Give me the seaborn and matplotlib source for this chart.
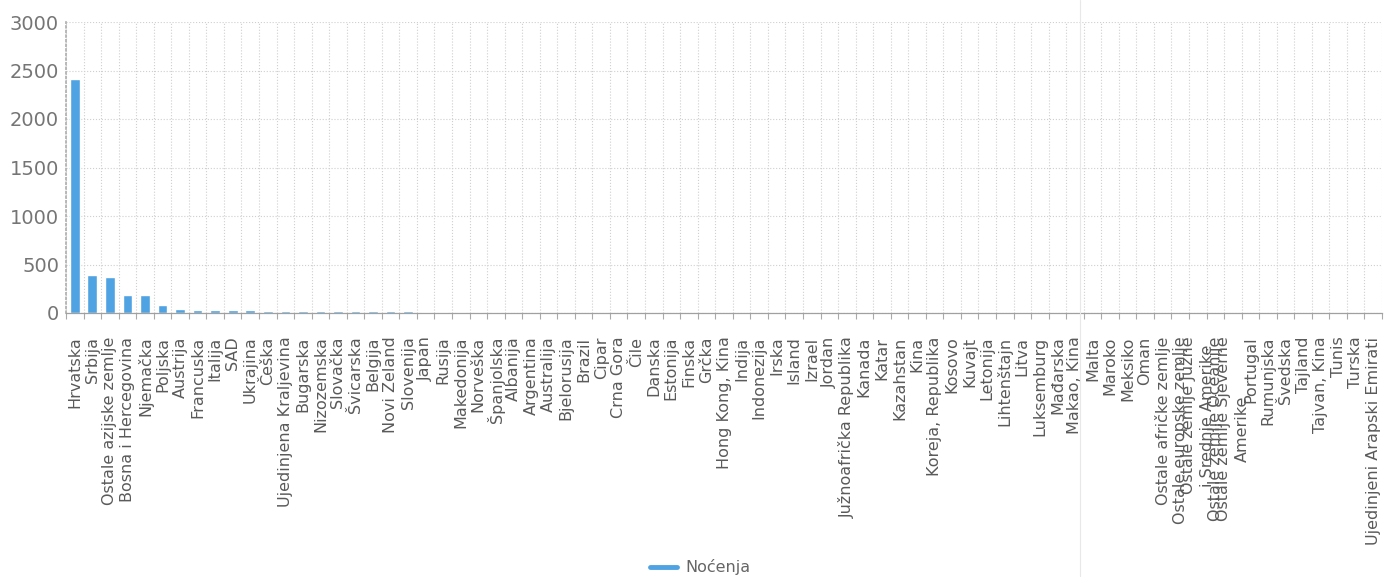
#!/usr/bin/env python3

import pandas as pd
import seaborn as sns
import matplotlib.pyplot as plt
from matplotlib.lines import Line2D

# ==========================
# DATA
# ==========================
countries = [
    "Hrvatska", "Srbija", "Ostale azijske zemlje", "Bosna i Hercegovina", "Njemačka",
    "Poljska", "Austrija", "Francuska", "Italija", "SAD",
    "Ukrajina", "Češka", "Ujedinjena Kraljevina", "Bugarska", "Nizozemska",
    "Slovačka", "Švicarska", "Belgija", "Novi Zeland", "Slovenija",
    "Japan", "Rusija", "Makedonija", "Norveška", "Španjolska",
    "Albanija", "Argentina", "Australija", "Bjelorusija", "Brazil",
    "Cipar", "Crna Gora", "Čile", "Danska", "Estonija",
    "Finska", "Grčka", "Hong Kong, Kina", "Indija", "Indonezija",
    "Irska", "Island", "Izrael", "Jordan", "Južnoafrička Republika",
    "Kanada", "Katar", "Kazahstan", "Kina", "Koreja, Republika",
    "Kosovo", "Kuvajt", "Letonija", "Lihtenštajn", "Litva",
    "Luksemburg", "Mađarska", "Makao, Kina", "Malta", "Maroko",
    "Meksiko", "Oman", "Ostale afričke zemlje", "Ostale europske zemlje",
    "Ostale zemlje Južne\ni Srednje Amerike",
    "Ostale zemlje Oceanije",
    "Ostale zemlje Sjeverne\nAmerike",
    "Portugal", "Rumunjska", "Švedska", "Tajland", "Tajvan, Kina",
    "Tunis", "Turska", "Ujedinjeni Arapski Emirati",
]

nocenja = [
    2410, 391, 372, 184, 184,
    82, 41, 34, 34, 34,
    34, 25, 25, 21, 21,
    21, 21, 17, 17, 17,
    14, 14, 11, 11, 11,
    0, 0, 0, 0, 0,
    0, 0, 0, 0, 0,
    0, 0, 0, 0, 0,
    0, 0, 0, 0, 0,
    0, 0, 0, 0, 0,
    0, 0, 0, 0, 0,
    0, 0, 0, 0, 0,
    0, 0, 0, 0,
    0,
    0,
    0,
    0, 0, 0, 0, 0,
    0, 0, 0,
]

y_ticks = [0, 500, 1000, 1500, 2000, 2500, 3000]
series_name = "Noćenja"
bar_color = "#4fa3e3"

df = pd.DataFrame({"zemlja": countries, "nocenja": nocenja})

# ==========================
# PLOT
# ==========================
sns.set_theme(style="white")
plt.rcParams["font.family"] = ["DejaVu Sans"]

fig = plt.figure(figsize=(13.86, 5.77), dpi=100)
ax = fig.add_axes([66 / 1386, 1 - 313 / 577, (1382 - 66) / 1386, (313 - 22) / 577])

sns.barplot(data=df, x="zemlja", y="nocenja", color=bar_color, width=0.55,
            saturation=1, ax=ax)

n = len(countries)
ax.set_xlim(-0.5, n - 0.5)
ax.set_ylim(0, 3000)
ax.set_yticks(y_ticks)
ax.set_xlabel("")
ax.set_ylabel("")

# category boundaries -> dotted vertical grid + small ticks
ax.set_xticks([i - 0.5 for i in range(n + 1)], minor=True)
ax.grid(True, which="minor", axis="x", color="#cfcfcf", linestyle=":", linewidth=0.8)
ax.grid(True, which="major", axis="y", color="#cfcfcf", linestyle=":", linewidth=0.8)
ax.grid(False, which="major", axis="x")
ax.set_axisbelow(True)

ax.tick_params(axis="x", which="major", length=0, pad=17, labelrotation=90,
               labelsize=11.5, labelcolor="#5a5a5a")
ax.tick_params(axis="x", which="minor", length=4, color="#aaaaaa", width=0.8,
               bottom=True)
ax.tick_params(axis="y", length=0, pad=5, labelsize=14, labelcolor="#757575")
for lab in ax.get_xticklabels():
    lab.set_multialignment("center")
    lab.set_linespacing(1.35)
    lab.set_verticalalignment("top")

for side in ["top", "right"]:
    ax.spines[side].set_visible(False)
ax.spines["left"].set_color("#b0b0b0")
ax.spines["left"].set_linestyle(":")
ax.spines["bottom"].set_color("#a0a0a0")
ax.spines["bottom"].set_linewidth(0.9)

# legend at the bottom
handle = Line2D([0], [0], color=bar_color, linewidth=3.5)
fig.legend([handle], [series_name], loc="lower center", bbox_to_anchor=(0.505, -0.022),
           frameon=False, fontsize=11.5, labelcolor="#666666", handlelength=1.7,
           handletextpad=0.5)

# faint vertical fold line visible on the scan
fig.add_artist(Line2D([1080 / 1386, 1080 / 1386], [0, 1], color="#e8e8e8",
                      linewidth=0.8))

plt.savefig("out.png", dpi=100)
plt.close()
